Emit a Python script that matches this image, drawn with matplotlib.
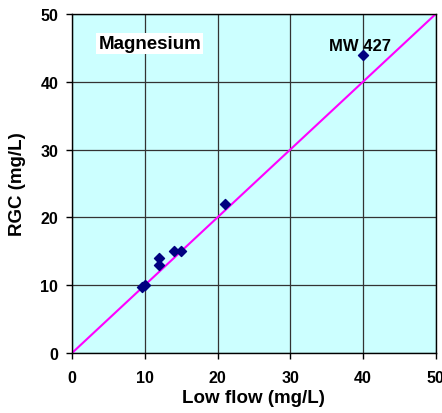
import matplotlib
matplotlib.use('Agg')
import matplotlib.pyplot as plt

plt.rcParams['font.family'] = ['Liberation Sans', 'DejaVu Sans']

# values
low_flow = [9.6, 10.0, 12.0, 12.0, 14.0, 15.0, 21.0, 40.0]
rgc = [9.8, 10.0, 14.0, 13.0, 15.0, 15.0, 22.0, 44.0]
ticks = [0, 10, 20, 30, 40, 50]

fig = plt.figure(figsize=(4.42, 4.14), dpi=100)
ax = fig.add_axes([0.163, 0.145, 0.823, 0.819])
ax.set_facecolor('#CCFFFF')

ax.plot([0, 50], [0, 50], color='#FF00FF', lw=1.5, zorder=2)
ax.scatter(low_flow, rgc, marker='D', s=26, color='#000080', zorder=3)

ax.set_xlim(0, 50)
ax.set_ylim(0, 50)
ax.set_xticks(ticks)
ax.set_yticks(ticks)
ax.grid(True, color='#333333', lw=0.9)
ax.set_axisbelow(True)
for s in ax.spines.values():
    s.set_color('black')
    s.set_linewidth(1.0)
ax.tick_params(length=4, width=1, labelsize=11.5)
ax.tick_params(axis='x', pad=8)
ax.tick_params(axis='y', pad=6)
for lab in ax.get_xticklabels() + ax.get_yticklabels():
    lab.set_fontweight('bold')

ax.set_xlabel('Low flow (mg/L)', fontsize=13.5, fontweight='bold', labelpad=3)
ax.set_ylabel('RGC (mg/L)', fontsize=13.5, fontweight='bold', labelpad=10)

ax.text(10.7, 45.6, 'Magnesium', fontsize=13.5, fontweight='bold', ha='center', va='center',
        bbox=dict(facecolor='white', edgecolor='none', pad=1.5), zorder=4)
ax.text(35.3, 45.3, 'MW 427', fontsize=12, fontweight='bold', ha='left', va='center', zorder=4)

fig.savefig('out.png', dpi=100)
